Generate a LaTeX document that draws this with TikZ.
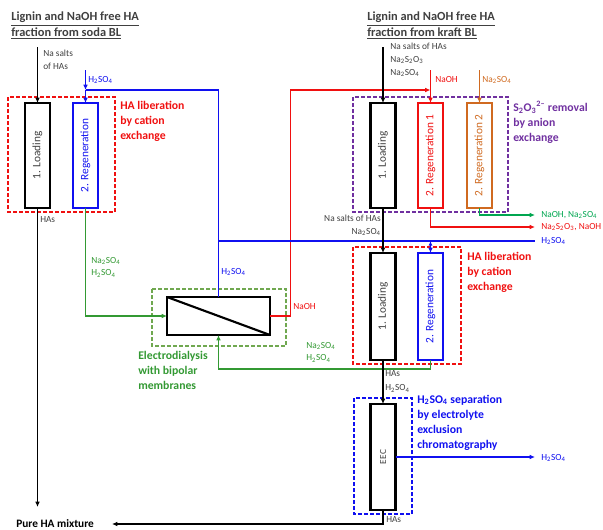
\documentclass[tikz,border=0pt]{standalone}
\usepackage{fontspec}
\setmainfont{Carlito}
\usetikzlibrary{arrows.meta}
\definecolor{cred}{HTML}{F01010}
\definecolor{cblue}{HTML}{1010F0}
\definecolor{cgreen}{HTML}{339933}
\definecolor{cedbox}{HTML}{70A850}
\definecolor{cteal}{HTML}{00A650}
\definecolor{corange}{HTML}{D06A20}
\definecolor{cpurple}{HTML}{7030A0}
\definecolor{cgray}{HTML}{404040}
\newcommand{\sub}[1]{\textsubscript{#1}}
\begin{document}
\begin{tikzpicture}[x=0.75pt,y=-0.75pt,
  col/.style={draw, line width=1.6pt, fill=white, minimum width=18.75pt, minimum height=78.75pt, inner sep=0pt, outer sep=0pt},
  ln/.style={line width=1pt},
  arr/.style={ln, -{Latex[length=4pt,width=3.5pt]}},
  dbox/.style={line width=0.9pt, dash pattern=on 3pt off 1.5pt},
  small/.style={font=\fontsize{7}{9.5}\selectfont, inner sep=0pt, align=left},
  boldlab/.style={font=\fontsize{8.8}{11.25}\selectfont\bfseries, inner sep=0pt, align=left},
  titlelab/.style={font=\fontsize{9.3}{11.5}\selectfont\bfseries, inner sep=0pt, align=left, text=cgray},
  coltext/.style={rotate=90, font=\fontsize{8.5}{9}\selectfont}
]
\useasboundingbox (0,0) rectangle (603,529);

% titles
\node[titlelab, anchor=north west] (t1) at (11,12) {\underline{Lignin and NaOH free HA}\\\underline{fraction from soda BL}};
\node[titlelab, anchor=north west] (t2) at (367,12) {\underline{Lignin and NaOH free HA}\\\underline{fraction from kraft BL}};

% dashed group boxes
\draw[dbox, cred] (8,97) rectangle (115,212);
\draw[dbox, cpurple] (353,97) rectangle (508,212);
\draw[dbox, cred] (353,247) rectangle (461,364);
\draw[dbox, cblue] (354,398) rectangle (412,514);
\draw[dbox, cedbox] (152,289) rectangle (286,346);

% columns
\node[col, draw=black, label={[coltext, text=cgray]center:1. Loading}] (L1) at (37.5,155.5) {};
\node[col, draw=cblue, label={[coltext, text=cblue]center:2. Regeneration}] (R1) at (85.5,155.5) {};
\node[col, draw=black, label={[coltext, text=cgray]center:1. Loading}] (L2) at (383,155.5) {};
\node[col, draw=cred, label={[coltext, text=cred]center:2. Regeneration 1}] (G1) at (430.5,155.5) {};
\node[col, draw=corange, label={[coltext, text=corange]center:2. Regeneration 2}] (G2) at (479.5,155.5) {};
\node[col, draw=black, minimum height=80.25pt, label={[coltext, text=cgray]center:1. Loading}] (L3) at (383,306.5) {};
\node[col, draw=cblue, minimum height=80.25pt, label={[coltext, text=cblue]center:2. Regeneration}] (R3) at (430.5,306.5) {};
\node[col, draw=black, minimum height=79.5pt, label={[coltext, text=cgray, font=\fontsize{7}{8}\selectfont]center:EEC}] (EEC) at (383,457) {};

% electrodialysis
\node[draw, line width=1.6pt, minimum width=77.25pt, minimum height=28.5pt, inner sep=0pt, outer sep=0pt] (ED) at (218.5,316) {};
\draw[line width=1.6pt] (ED.north west) -- (ED.south east);

% coordinates
\coordinate (s1) at (37.5,47);
\coordinate (h1) at (85.5,70);
\coordinate (j1) at (85.5,90);
\coordinate (s2) at (383,47);
\coordinate (n1) at (430.5,70);
\coordinate (j2) at (430.5,90);
\coordinate (o1) at (479.5,70);
\coordinate (e1) at (535,215);
\coordinate (e2) at (535,227);
\coordinate (b1) at (218.5,241);
\coordinate (b2) at (535,241);
\coordinate (j3) at (430.5,241);
\coordinate (e3) at (535,457);
\coordinate (p1) at (37.5,507);
\coordinate (p2) at (112,524);

% left column flows
\draw[arr, black] (s1) -- (L1.north);
\draw[arr, cblue] (h1) -- (j1);
\draw[ln, cblue] (ED.north) |- (j1);
\draw[arr, cblue] (j1) -- (R1.north);
\draw[arr, black] (L1.south) -- (p1);
\draw[arr, cgreen] (R1.south) |- (ED.west);

% NaOH from ED
\draw[arr, cred] (ED.east) -| (290.5,90) -- (j2);
\draw[arr, cred] (n1) -- (G1.north);
\draw[arr, corange] (o1) -- (G2.north);
\draw[arr, black] (s2) -- (L2.north);

% anion exchange outputs
\draw[arr, cteal] (G2.south) |- (e1);
\draw[arr, cred] (G1.south) |- (e2);

% H2SO4 line
\draw[ln, cblue] (b1) -- (b2);
\draw[ln, cblue, {Latex[length=3.5pt,width=3pt]}-{Latex[length=4pt,width=3.5pt]}] (j3) -- (R3.north);

% second cation exchange
\draw[arr, black] (L2.south) -- (L3.north);
\draw[arr, cgreen] (R3.south) |- (218.5,369) -- (ED.south);
\draw[arr, black] (L3.south) -- (EEC.north);

% EEC
\draw[arr, cblue] (EEC.east) -- (e3);
\draw[arr, black] (EEC.south) |- (p2);

% small labels
\node[small, text=cgray, anchor=north west] (la1) at (43,50) {Na salts\\of HAs};
\node[small, text=cblue, anchor=west] (la2) at (88,80) {H\sub{2}SO\sub{4}};
\node[small, text=cgray, anchor=west] (la3) at (40,220) {HAs};
\node[small, text=cgreen, anchor=north west] (la4) at (91,257) {Na\sub{2}SO\sub{4}\\H\sub{2}SO\sub{4}};
\node[small, text=cblue, anchor=west] (la5) at (221,272) {H\sub{2}SO\sub{4}};
\node[small, text=cred, anchor=west] (la6) at (293,306) {NaOH};
\node[small, text=cgreen, anchor=north west] (la7) at (306,342) {Na\sub{2}SO\sub{4}\\H\sub{2}SO\sub{4}};
\node[small, text=cgray, anchor=north west] (la8) at (390,43) {Na salts of HAs\\Na\sub{2}S\sub{2}O\sub{3}\\Na\sub{2}SO\sub{4}};
\node[small, text=cred, anchor=west] (la9) at (435,80) {NaOH};
\node[small, text=corange, anchor=west] (la10) at (482,80) {Na\sub{2}SO\sub{4}};
\node[small, text=cteal, anchor=west] (la11) at (541,215) {NaOH, Na\sub{2}SO\sub{4}};
\node[small, text=cred, anchor=west] (la12) at (541,227) {Na\sub{2}S\sub{2}O\sub{3}, NaOH};
\node[small, text=cblue, anchor=west] (la13) at (541,241) {H\sub{2}SO\sub{4}};
\node[small, text=cgray, anchor=north east, align=right] (la14) at (381,215) {Na salts of HAs\\Na\sub{2}SO\sub{4}};
\node[small, text=cgray, anchor=north west, font=\fontsize{7}{11}\selectfont] (la15) at (385,370) {HAs\\H\sub{2}SO\sub{4}};
\node[small, text=cblue, anchor=west] (la16) at (541,458) {H\sub{2}SO\sub{4}};
\node[small, text=cgray, anchor=west] (la17) at (386,520) {HAs};

% bold labels
\node[boldlab, text=cred, anchor=north west] (bl1) at (120,101) {HA liberation\\by cation\\exchange};
\node[boldlab, text=cpurple, anchor=north west] (bl2) at (513,101) {S\sub{2}O\sub{3}\textsuperscript{2–} removal\\by anion\\exchange};
\node[boldlab, text=cred, anchor=north west] (bl3) at (467,252) {HA liberation\\by cation\\exchange};
\node[boldlab, text=cblue, anchor=north west] (bl4) at (417,395) {H\sub{2}SO\sub{4} separation\\by electrolyte\\exclusion\\chromatography};
\node[boldlab, text=cgreen, anchor=north west] (bl5) at (138,351) {Electrodialysis\\with bipolar\\membranes};
\node[boldlab, text=black, font=\fontsize{8.5}{10}\selectfont\bfseries, anchor=west] (pure) at (16,524) {Pure HA mixture};
\end{tikzpicture}
\end{document}
